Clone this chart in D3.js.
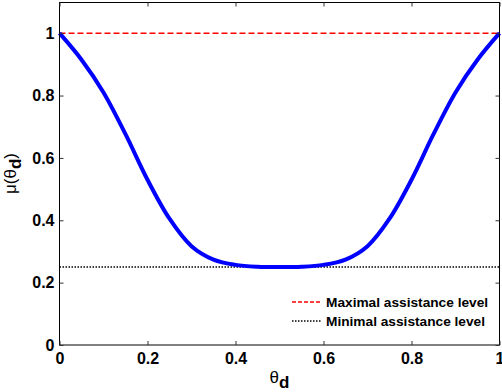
<!DOCTYPE html>
<html>
<head>
<meta charset="utf-8">
<script src="https://cdn.jsdelivr.net/npm/d3@7"></script>
<style>
    body { margin: 0; background: #fff; }
    svg { display: block; }
    .tick-label { font-family: "Liberation Sans", Arial, sans-serif; font-weight: bold; font-size: 16px; }
    .legend-label { font-family: "Liberation Sans", Arial, sans-serif; font-weight: bold; font-size: 13.7px; }
</style>
</head>
<body>
<div id="chart"></div>
<script>
// valores
const theta = [0, 0.05, 0.1, 0.15, 0.2, 0.25, 0.3, 0.35, 0.4, 0.45, 0.5, 0.55, 0.6, 0.65, 0.7, 0.75, 0.8, 0.85, 0.9, 0.95, 1];
const mu = [1, 0.915, 0.81, 0.676, 0.53, 0.405, 0.317, 0.274, 0.257, 0.251, 0.25, 0.251, 0.257, 0.274, 0.317, 0.405, 0.53, 0.676, 0.81, 0.915, 1];
const maxLevel = 1;
const minLevel = 0.25;
const xTicks = [0, 0.2, 0.4, 0.6, 0.8, 1];
const yTicks = [0, 0.2, 0.4, 0.6, 0.8, 1];
const legendLabels = ['Maximal assistance level', 'Minimal assistance level'];

const W = 502, H = 392;
const plotLeft = 59.5, plotRight = 499.5, plotTop = 2, plotBottom = 345;

const svg = d3.select('#chart').append('svg')
    .attr('width', W)
    .attr('height', H);

const x = d3.scaleLinear().domain([0, 1]).range([plotLeft, plotRight]);
const y = d3.scaleLinear().domain([0, 1.1]).range([plotBottom, plotTop]);

const data = theta.map((t, i) => ({ t: t, v: mu[i] }));

// Linhas de referência
svg.append('line')
    .attr('x1', x(0)).attr('x2', x(1))
    .attr('y1', y(maxLevel)).attr('y2', y(maxLevel))
    .attr('stroke', '#ff0000')
    .attr('stroke-width', 1.5)
    .attr('stroke-dasharray', '6,3');

svg.append('line')
    .attr('x1', x(0)).attr('x2', x(1))
    .attr('y1', y(minLevel)).attr('y2', y(minLevel))
    .attr('stroke', '#000')
    .attr('stroke-width', 1.5)
    .attr('stroke-dasharray', '1.5,1.5');

// Curva
const line = d3.line()
    .x(d => x(d.t))
    .y(d => y(d.v))
    .curve(d3.curveCatmullRom.alpha(0.5));

svg.append('path')
    .datum(data)
    .attr('fill', 'none')
    .attr('stroke', '#0000ff')
    .attr('stroke-width', 4)
    .attr('stroke-linejoin', 'round')
    .attr('d', line);

// Eixos (caixa com ticks para dentro)
svg.append('rect')
    .attr('x', plotLeft).attr('y', plotTop + 0.5)
    .attr('width', plotRight - plotLeft).attr('height', plotBottom - plotTop - 0.5)
    .attr('fill', 'none')
    .attr('stroke', '#000')
    .attr('stroke-width', 1);

const tickLen = 4;

svg.append('g')
    .attr('transform', `translate(0,${plotBottom})`)
    .call(d3.axisBottom(x).tickValues(xTicks).tickSize(-tickLen).tickFormat(d3.format('')))
    .call(g => g.select('.domain').remove())
    .call(g => g.selectAll('text').attr('class', 'tick-label').attr('dy', '0.95em').attr('y', 4).attr('fill', '#000'));

svg.append('g')
    .attr('transform', `translate(0,${plotTop + 0.5})`)
    .call(d3.axisTop(x).tickValues(xTicks).tickSize(-tickLen).tickFormat(''))
    .call(g => g.select('.domain').remove());

svg.append('g')
    .attr('transform', `translate(${plotLeft},0)`)
    .call(d3.axisLeft(y).tickValues(yTicks).tickSize(-tickLen).tickFormat(d3.format('')))
    .call(g => g.select('.domain').remove())
    .call(g => g.selectAll('text').attr('class', 'tick-label').attr('x', -5).attr('fill', '#000'));

svg.append('g')
    .attr('transform', `translate(${plotRight},0)`)
    .call(d3.axisRight(y).tickValues(yTicks).tickSize(-tickLen).tickFormat(''))
    .call(g => g.select('.domain').remove());

svg.selectAll('.tick line').attr('stroke', '#333');

// Rótulos dos eixos
const xl = svg.append('text')
    .attr('x', (plotLeft + plotRight) / 2)
    .attr('y', 383)
    .attr('text-anchor', 'middle')
    .attr('font-family', '"Liberation Sans", Arial, sans-serif')
    .attr('font-size', 17);
xl.append('tspan').text('θ');
xl.append('tspan').attr('dy', 5).attr('font-weight', 'bold').text('d');

const yl = svg.append('text')
    .attr('transform', `translate(16,${(plotTop + plotBottom) / 2}) rotate(-90)`)
    .attr('text-anchor', 'middle')
    .attr('font-family', '"Liberation Sans", Arial, sans-serif')
    .attr('font-size', 17);
yl.append('tspan').text('μ(θ');
yl.append('tspan').attr('dy', 5).attr('font-weight', 'bold').text('d');
yl.append('tspan').attr('dy', -5).text(')');

// Legenda
const legend = svg.append('g');
const legendY = [302, 321];
const legendStyles = [
    { color: '#ff0000', dash: '4,2' },
    { color: '#000', dash: '1.5,1.5' }
];
legendLabels.forEach((label, i) => {
    legend.append('line')
        .attr('x1', 292).attr('x2', 322)
        .attr('y1', legendY[i]).attr('y2', legendY[i])
        .attr('stroke', legendStyles[i].color)
        .attr('stroke-width', 1.5)
        .attr('stroke-dasharray', legendStyles[i].dash);
    legend.append('text')
        .attr('class', 'legend-label')
        .attr('x', 326)
        .attr('y', legendY[i])
        .attr('dy', '0.35em')
        .text(label);
});
</script>
</body>
</html>
